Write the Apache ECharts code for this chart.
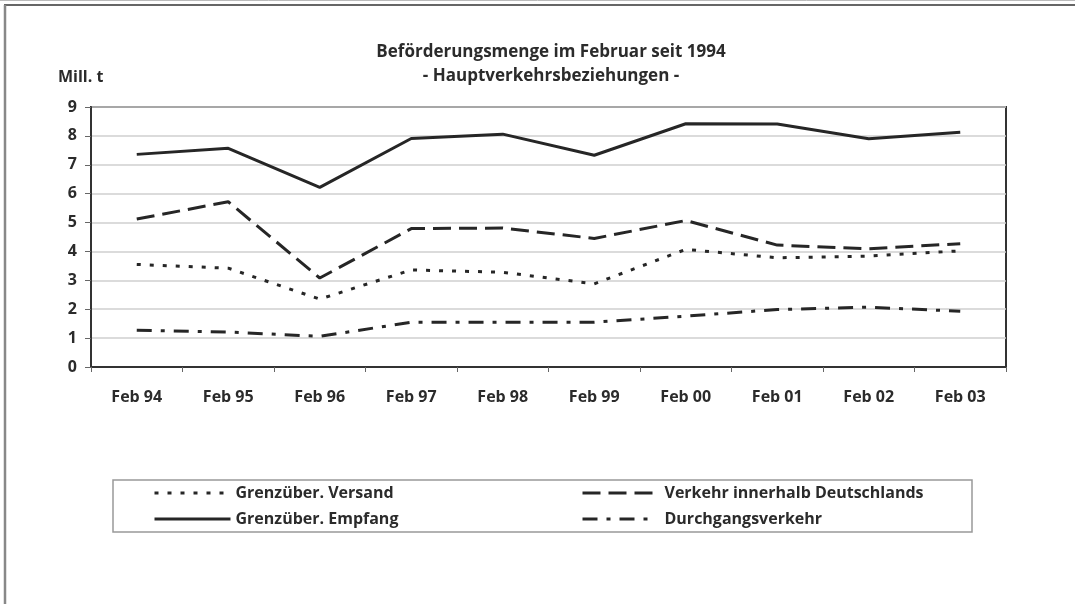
<!DOCTYPE html>
<html>
<head>
<meta charset="utf-8">
<script src="https://cdn.jsdelivr.net/npm/echarts@6/dist/echarts.min.js"></script>
<style>
html,body{margin:0;padding:0;background:#fff;}
#c{width:1075px;height:604px;}
</style>
</head>
<body>
<div id="c"></div>
<script>
const categories = ['Feb 94','Feb 95','Feb 96','Feb 97','Feb 98','Feb 99','Feb 00','Feb 01','Feb 02','Feb 03'];
const versand    = [3.55, 3.42, 2.35, 3.36, 3.28, 2.88, 4.07, 3.78, 3.84, 4.02];
const empfang    = [7.36, 7.57, 6.22, 7.91, 8.06, 7.33, 8.42, 8.41, 7.90, 8.13];
const innerhalb  = [5.12, 5.72, 3.08, 4.79, 4.81, 4.45, 5.07, 4.22, 4.09, 4.27];
const durchgang  = [1.27, 1.21, 1.06, 1.55, 1.55, 1.55, 1.76, 1.99, 2.07, 1.93];
const yTicks = [0,1,2,3,4,5,6,7,8,9];
const seriesNames = ['Grenzüber. Versand','Grenzüber. Empfang','Verkehr innerhalb Deutschlands','Durchgangsverkehr'];
const titleText = 'Beförderungsmenge im Februar seit 1994';
const subtitleText = '- Hauptverkehrsbeziehungen -';
const unitText = 'Mill. t';

const FONT = '"Open Sans", "DejaVu Sans", sans-serif';
const TXT = '#2b2b2b';
const LINE = '#262626';

const chart = echarts.init(document.getElementById('c'), null, {renderer:'canvas'});

function mkLegend(name, left, top, iw, pad){
  return {
    data:[name], left:left, top:top, padding:0,
    itemWidth:iw, itemHeight:20, itemGap:0,
    selectedMode:false,
    itemStyle:{opacity:0, borderWidth:0},
    lineStyle:{width:3},
    textStyle:{fontFamily:FONT, fontWeight:'bold', fontSize:16, color:TXT, lineHeight:20, padding:[0,0,0,pad]}
  };
}

chart.setOption({
  animation:false,
  backgroundColor:'#fff',
  title:{
    text: titleText + '\n' + subtitleText,
    left:546, top:35, textAlign:'center',
    textStyle:{fontFamily:FONT, fontWeight:'bold', fontSize:17, color:TXT, lineHeight:24}
  },
  grid:{left:91, top:107, right:69, bottom:237, show:true, borderColor:'#333', borderWidth:2, outerBoundsMode:'none', containLabel:false},
  legend:[
    mkLegend(seriesNames[0], 153, 483, 76, 0),
    mkLegend(seriesNames[1], 153, 509, 76, 0),
    mkLegend(seriesNames[2], 581, 483, 72, 5),
    mkLegend(seriesNames[3], 581, 509, 72, 5)
  ],
  xAxis:{
    type:'category', data:categories, boundaryGap:true,
    axisLine:{show:true, lineStyle:{color:'#333', width:2}},
    axisTick:{show:true, length:5, alignWithLabel:false, lineStyle:{color:'#666', width:1}},
    axisLabel:{margin:22, fontFamily:FONT, fontWeight:'bold', fontSize:16, color:TXT},
    splitLine:{show:false}
  },
  yAxis:{
    type:'value', min:0, max:9, interval:1,
    axisLine:{show:true, lineStyle:{color:'#333', width:2}},
    axisTick:{show:true, length:6, lineStyle:{color:'#666', width:1}},
    axisLabel:{margin:14, fontFamily:FONT, fontWeight:'bold', fontSize:16, color:TXT,
      formatter:function(v){ return yTicks.indexOf(v) >= 0 ? String(v) : ''; }},
    splitLine:{show:true, lineStyle:{color:'#cfcfcf', width:1.5}}
  },
  series:[
    {name:seriesNames[0], type:'line', data:versand, symbol:'none', color:LINE,
      lineStyle:{color:LINE, width:3, type:[4,9]}},
    {name:seriesNames[1], type:'line', data:empfang, symbol:'none', color:LINE,
      lineStyle:{color:LINE, width:3, type:'solid'}},
    {name:seriesNames[2], type:'line', data:innerhalb, symbol:'none', color:LINE,
      lineStyle:{color:LINE, width:3, type:[18,8]}},
    {name:seriesNames[3], type:'line', data:durchgang, symbol:'none', color:LINE,
      lineStyle:{color:LINE, width:3, type:[15,9,4,9]}}
  ],
  graphic:[
    {type:'line', shape:{x1:0,y1:0.5,x2:1075,y2:0.5}, style:{stroke:'#bbb', lineWidth:1}, silent:true},
    {type:'line', shape:{x1:4,y1:5,x2:1075,y2:5}, style:{stroke:'#666', lineWidth:2}, silent:true},
    {type:'line', shape:{x1:5,y1:5,x2:5,y2:604}, style:{stroke:'#888', lineWidth:2.5}, silent:true},
    {type:'rect', shape:{x:113,y:480,width:859,height:52}, style:{fill:'none', stroke:'#999', lineWidth:1.5}, silent:true, z:-1},
    {type:'text', left:58, top:69, style:{text:unitText, fontFamily:FONT, fontWeight:'bold', fontSize:16, fill:TXT}, silent:true}
  ]
});
</script>
</body>
</html>
